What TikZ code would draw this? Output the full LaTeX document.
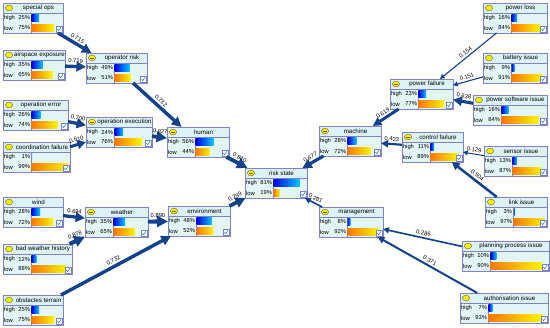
\documentclass[tikz,border=0pt]{standalone}
\usepackage{fontspec}
\setmainfont{Liberation Sans}
\usetikzlibrary{arrows.meta}
\definecolor{bnborder}{RGB}{128,128,204}
\definecolor{bnfill}{RGB}{226,245,247}
\definecolor{bntitle}{RGB}{220,243,246}
\definecolor{edgeblue}{RGB}{18,66,140}
\definecolor{hbL}{RGB}{0,0,225}
\definecolor{hbR}{RGB}{0,200,255}
\definecolor{lbL}{RGB}{255,120,0}
\definecolor{lbR}{RGB}{255,245,0}
\definecolor{icfill}{RGB}{255,240,0}
\definecolor{icdraw}{RGB}{110,100,20}
\definecolor{chk}{RGB}{0,140,150}
\tikzset{
  bnbox/.style={rectangle, fill=bnfill, draw=none, minimum height=30pt, inner sep=0pt, outer sep=0pt},
  bnline/.style={draw=bnborder, line width=0.6pt},
  ttext/.style={font=\fontsize{6.2}{7}\selectfont, inner sep=0pt},
  ltext/.style={font=\fontsize{5.8}{7}\selectfont, inner sep=0pt},
  highbar/.style={left color=hbL, right color=hbR},
  lowbar/.style={left color=lbL, right color=lbR},
  edge/.style={/utils/exec={\pgfmathsetmacro\bnEW{0.5+4.0*#1}}, line width=\bnEW pt, draw=edgeblue,
    -{Triangle[length=2.5pt 2.1, width=2.5pt 2.1]}},
  elabel/.style={font=\fontsize{5.8}{6}\selectfont, sloped, above=1.2pt, midway, inner sep=0.6pt, text=black},
}
% name, x, y, width, title, high, low, inner(1)/leaf(0)
\newcommand\bnnode[8]{%
  \node[bnbox, minimum width=#4pt, anchor=north west] (#1) at (#2,#3) {};
  \begin{scope}[shift={(#2,#3)}]
    \fill[bntitle] (0.3,0.3) rectangle (#4-0.3,10);
    \draw[bnline] (0,10) -- (#4,10);
    \draw[bnline] (28,10) -- (28,30);
    \pgfmathsetmacro\bnH{max(0.4,#6/100*(#4-30))}
    \pgfmathsetmacro\bnL{max(0.4,#7/100*(#4-30))}
    \shade[highbar] (28.6,11.5) rectangle ++(\bnH,7);
    \shade[lowbar] (28.6,21.5) rectangle ++(\bnL,7);
    \filldraw[fill=icfill, draw=icdraw, line width=0.4pt] (6,5) ellipse [x radius=3.6, y radius=2.8];
    \ifnum#8=1 \draw[icdraw, line width=0.6pt] (4.3,5) -- (7.7,5);\fi
    \node[ttext] (#1-t) at ({(#4+11)/2},5) {#5};
    \node[ltext, anchor=west] (#1-h) at (0.8,15) {high};
    \node[ltext, anchor=east] (#1-hp) at (27.3,15) {#6\%};
    \node[ltext, anchor=west] (#1-l) at (0.8,25) {low};
    \node[ltext, anchor=east] (#1-lp) at (27.3,25) {#7\%};
    \filldraw[fill=white, draw=bnborder, line width=0.3pt] (#4-6.5,23.5) rectangle (#4-1.3,28.7);
    \draw[chk, line width=0.5pt] (#4-5.6,26) -- (#4-4.3,27.7) -- (#4-2,24.3);
    \draw[bnline] (0,0) rectangle (#4,30);
  \end{scope}
}
\begin{document}
\begin{tikzpicture}[x=1pt, y=-1pt]
\useasboundingbox (0,0) rectangle (550,328);
\fill[white] (0,0) rectangle (550,328);
\bnnode{so}{3}{3}{60}{special ops}{25}{75}{0}
\bnnode{ae}{3}{50}{62}{airspace exposure}{35}{65}{0}
\bnnode{orisk}{86}{53}{61}{operator risk}{49}{51}{1}
\bnnode{oe}{3}{100}{65}{operation error}{26}{74}{0}
\bnnode{cf}{3}{142}{67}{coordination failure}{1}{99}{0}
\bnnode{oex}{86}{117}{66}{operation execution}{24}{76}{1}
\bnnode{hu}{167}{127}{62}{human}{56}{44}{1}
\bnnode{rs}{245}{168}{62}{risk state}{81}{19}{1}
\bnnode{env}{168}{206}{62}{environment}{48}{52}{1}
\bnnode{wi}{3}{197}{60}{wind}{28}{72}{0}
\bnnode{we}{85}{207}{63}{weather}{35}{65}{1}
\bnnode{bwh}{3}{244}{69}{bad weather history}{12}{88}{0}
\bnnode{ot}{3}{295}{60}{obstacles terrain}{25}{75}{0}
\bnnode{ma}{319}{126}{62}{machine}{28}{72}{1}
\bnnode{pf}{390}{79}{63}{power failure}{23}{77}{1}
\bnnode{ctf}{402}{132}{61}{control failure}{11}{89}{1}
\bnnode{pl}{483}{3}{64}{power loss}{16}{84}{0}
\bnnode{bi}{483}{53}{64}{battery issue}{9}{91}{0}
\bnnode{psi}{473}{95}{74}{power software issue}{16}{84}{0}
\bnnode{si}{484}{146}{63}{sensor issue}{13}{87}{0}
\bnnode{li}{485}{197}{62}{link issue}{3}{97}{0}
\bnnode{mg}{319}{207}{64}{management}{8}{92}{1}
\bnnode{ppi}{462}{241}{87}{planning process issue}{10}{90}{0}
\bnnode{ai}{460}{293}{88}{authorisation issue}{7}{93}{0}
\draw[edge=0.715] (so) -- node[elabel]{0.715} (orisk);
\draw[edge=0.719] (ae) -- node[elabel]{0.719} (orisk);
\draw[edge=0.732] (orisk) -- node[elabel]{0.732} (hu);
\draw[edge=0.700] (oe) -- node[elabel]{0.700} (oex);
\draw[edge=0.610] (cf) -- node[elabel]{0.610} (oex);
\draw[edge=0.827] (oex) -- node[elabel]{0.827} (hu);
\draw[edge=0.840] (hu) -- node[elabel]{0.840} (rs);
\draw[edge=0.799] (env) -- node[elabel]{0.799} (rs);
\draw[edge=0.677] (ma) -- node[elabel]{0.677} (rs);
\draw[edge=0.281] (mg) -- node[elabel]{0.281} (rs);
\draw[edge=0.694] (wi) -- node[elabel]{0.694} (we);
\draw[edge=0.878] (bwh) -- node[elabel]{0.878} (we);
\draw[edge=0.890] (we) -- node[elabel]{0.890} (env);
\draw[edge=0.732] (ot) -- node[elabel]{0.732} (env);
\draw[edge=0.619] (pf) -- node[elabel]{0.619} (ma);
\draw[edge=0.423] (ctf) -- node[elabel]{0.423} (ma);
\draw[edge=0.154] (pl) -- node[elabel]{0.154} (pf);
\draw[edge=0.151] (bi) -- node[elabel]{0.151} (pf);
\draw[edge=0.638] (psi) -- node[elabel]{0.638} (pf);
\draw[edge=0.129] (si) -- node[elabel]{0.129} (ctf);
\draw[edge=0.504] (li) -- node[elabel]{0.504} (ctf);
\draw[edge=0.286] (ppi) -- node[elabel]{0.286} (mg);
\draw[edge=0.371] (ai) -- node[elabel]{0.371} (mg);
\end{tikzpicture}
\end{document}
